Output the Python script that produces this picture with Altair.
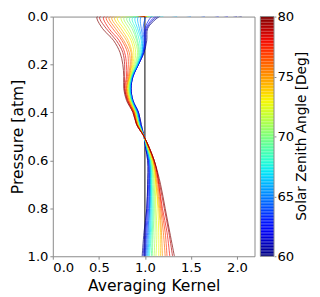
import altair as alt
import numpy as np
import pandas as pd

# Pressure levels [atm] at which the kernels are read
pressure_levels = [0.0, 0.01, 0.05, 0.1, 0.15, 0.2, 0.25, 0.3, 0.35, 0.4,
                   0.45, 0.5, 0.55, 0.6, 0.7, 0.8, 0.9, 1.0]

# Solar zenith angles [deg]
sza_values = [60, 61, 62, 63, 64, 65, 66, 67, 68, 69, 70,
              71, 72, 73, 74, 75, 76, 77, 78, 79, 80]

# Averaging kernel values (one row per SZA, one value per pressure level)
kernel_rows = [
    [2.05, 1.12, 1.03, 1.02, 0.99, 0.93, 0.87, 0.85, 0.87, 0.93, 0.96, 0.99, 1.01, 1.03, 1.03, 1.02, 0.99, 0.97],
    [2.00, 1.10, 1.02, 1.01, 0.99, 0.93, 0.87, 0.85, 0.87, 0.93, 0.96, 0.99, 1.01, 1.03, 1.03, 1.02, 1.00, 0.98],
    [1.90, 1.08, 1.01, 1.00, 0.98, 0.93, 0.87, 0.85, 0.87, 0.93, 0.95, 0.99, 1.01, 1.04, 1.04, 1.03, 1.01, 0.99],
    [1.80, 1.05, 1.00, 1.00, 0.98, 0.93, 0.87, 0.84, 0.86, 0.92, 0.95, 0.99, 1.02, 1.04, 1.05, 1.04, 1.02, 1.00],
    [1.65, 1.00, 0.98, 0.99, 0.98, 0.92, 0.86, 0.84, 0.86, 0.92, 0.95, 0.99, 1.02, 1.05, 1.05, 1.05, 1.03, 1.01],
    [1.50, 0.95, 0.96, 0.98, 0.97, 0.92, 0.86, 0.84, 0.86, 0.92, 0.94, 0.99, 1.02, 1.05, 1.06, 1.05, 1.04, 1.02],
    [1.35, 0.92, 0.94, 0.97, 0.97, 0.92, 0.86, 0.84, 0.86, 0.91, 0.94, 0.99, 1.02, 1.05, 1.06, 1.06, 1.05, 1.03],
    [1.20, 0.89, 0.92, 0.96, 0.96, 0.92, 0.86, 0.84, 0.86, 0.91, 0.94, 0.99, 1.02, 1.06, 1.07, 1.07, 1.06, 1.04],
    [1.10, 0.86, 0.90, 0.94, 0.95, 0.91, 0.85, 0.83, 0.85, 0.91, 0.94, 0.99, 1.03, 1.06, 1.07, 1.08, 1.07, 1.05],
    [1.07, 0.83, 0.88, 0.92, 0.94, 0.91, 0.85, 0.83, 0.85, 0.90, 0.93, 0.99, 1.03, 1.07, 1.08, 1.09, 1.08, 1.07],
    [1.05, 0.80, 0.86, 0.91, 0.93, 0.90, 0.85, 0.83, 0.85, 0.90, 0.93, 0.99, 1.03, 1.07, 1.09, 1.10, 1.09, 1.08],
    [1.04, 0.77, 0.83, 0.89, 0.92, 0.89, 0.84, 0.82, 0.84, 0.90, 0.93, 0.99, 1.03, 1.07, 1.10, 1.11, 1.11, 1.10],
    [1.03, 0.74, 0.80, 0.87, 0.90, 0.88, 0.84, 0.82, 0.84, 0.90, 0.93, 0.99, 1.04, 1.08, 1.11, 1.12, 1.13, 1.12],
    [1.03, 0.70, 0.77, 0.85, 0.88, 0.87, 0.84, 0.81, 0.84, 0.89, 0.92, 0.99, 1.04, 1.08, 1.12, 1.14, 1.15, 1.15],
    [1.02, 0.67, 0.74, 0.82, 0.86, 0.86, 0.83, 0.81, 0.83, 0.89, 0.92, 0.99, 1.04, 1.09, 1.12, 1.15, 1.17, 1.17],
    [1.02, 0.64, 0.71, 0.80, 0.85, 0.85, 0.83, 0.80, 0.83, 0.89, 0.92, 0.99, 1.04, 1.09, 1.13, 1.16, 1.18, 1.19],
    [1.01, 0.61, 0.68, 0.77, 0.83, 0.84, 0.82, 0.80, 0.82, 0.88, 0.92, 0.99, 1.05, 1.09, 1.14, 1.17, 1.20, 1.22],
    [1.01, 0.58, 0.65, 0.75, 0.81, 0.82, 0.81, 0.79, 0.82, 0.88, 0.91, 0.99, 1.05, 1.10, 1.15, 1.18, 1.22, 1.24],
    [1.00, 0.55, 0.61, 0.72, 0.78, 0.80, 0.80, 0.78, 0.81, 0.88, 0.91, 0.99, 1.05, 1.10, 1.15, 1.19, 1.24, 1.27],
    [1.00, 0.51, 0.58, 0.69, 0.76, 0.78, 0.78, 0.78, 0.81, 0.87, 0.91, 0.99, 1.05, 1.10, 1.16, 1.21, 1.26, 1.30],
    [1.00, 0.48, 0.54, 0.66, 0.73, 0.76, 0.77, 0.77, 0.80, 0.87, 0.91, 0.99, 1.05, 1.10, 1.17, 1.22, 1.27, 1.32],
]

reference_line = [1.0]
x_ticks = [0.0, 0.5, 1.0, 1.5, 2.0]
y_ticks = [0.0, 0.2, 0.4, 0.6, 0.8, 1.0]
cbar_ticks = [60, 65, 70, 75, 80]
cbar_range = [60, 80]
cbar_title = ["Solar Zenith Angle [Deg]"]

records = []
for s, row in zip(sza_values, kernel_rows):
    for p, k in zip(pressure_levels, row):
        records.append({"sza": s, "pressure": p, "kernel": k})
df = pd.DataFrame(records)
ref_df = pd.DataFrame({"kernel": reference_line})
title_df = pd.DataFrame({"label": cbar_title})

# colour-bar strip: thin slices spanning the colour range
cbar_edges = np.linspace(cbar_range[0], cbar_range[1], 161)
cbar_df = pd.DataFrame({"lo": cbar_edges[:-1], "hi": cbar_edges[1:]})
cbar_df["mid"] = (cbar_df["lo"] + cbar_df["hi"]) / 2
cbar_box_df = pd.DataFrame({"lo": [cbar_range[0]], "hi": [cbar_range[1]]})


# matplotlib "jet" colormap as a palette
def jet(t):
    r = np.interp(t, [0, 0.35, 0.66, 0.89, 1], [0, 0, 1, 1, 0.5])
    g = np.interp(t, [0, 0.125, 0.375, 0.64, 0.91, 1], [0, 0, 1, 1, 0, 0])
    b = np.interp(t, [0, 0.11, 0.34, 0.65, 1], [0.5, 1, 1, 0, 0])
    return "#%02x%02x%02x" % (int(round(r * 255)), int(round(g * 255)), int(round(b * 255)))


stops = [60 + i for i in range(21)]
palette = [jet((s - 60) / 20) for s in stops]
color_scale = alt.Scale(domain=stops, range=palette, interpolate="rgb")

FONT = "DejaVu Sans"
W, H = 207, 246
CB_X0, CB_X1 = 213, 227

x_enc = alt.X("kernel:Q",
              scale=alt.Scale(domain=[0, 2.19], nice=False, zero=False),
              axis=alt.Axis(values=x_ticks, format=".1f", title="Averaging Kernel"))

rule = alt.Chart(ref_df).mark_rule(color="black", strokeWidth=1).encode(x=x_enc)

lines = alt.Chart(df).mark_line(
    strokeWidth=1, opacity=0.7, interpolate="catmull-rom", tension=1, clip=True
).encode(
    x=x_enc,
    y=alt.Y("pressure:Q",
            scale=alt.Scale(domain=[0, 1], reverse=True, nice=False, zero=False),
            axis=alt.Axis(values=y_ticks, format=".1f", title="Pressure [atm]",
                          titlePadding=2)),
    color=alt.Color("sza:Q", scale=color_scale, legend=None),
    order=alt.Order("pressure:Q"),
)

cbar_y = alt.Y("lo:Q",
               scale=alt.Scale(domain=cbar_range, nice=False, zero=False),
               axis=alt.Axis(orient="right", offset=CB_X1 - W, values=cbar_ticks,
                             format="d", title=None, tickSize=2, labelPadding=1,
                             labelFontSize=13.5))

cbar_rects = alt.Chart(cbar_df).mark_rect(stroke=None).encode(
    x=alt.value(CB_X0), x2=alt.value(CB_X1),
    y=cbar_y, y2="hi:Q",
    color=alt.Color("mid:Q", scale=color_scale, legend=None),
)
cbar_box = alt.Chart(cbar_box_df).mark_rect(
    fillOpacity=0, stroke="#888", strokeWidth=1
).encode(x=alt.value(CB_X0), x2=alt.value(CB_X1), y=cbar_y, y2="hi:Q")

cbar = alt.layer(cbar_rects, cbar_box)

cbar_label = alt.Chart(title_df).mark_text(
    angle=270, fontSize=14, font=FONT, color="black", align="center", baseline="middle"
).encode(text="label:N", x=alt.value(256), y=alt.value(H / 2))

chart = alt.layer(rule, lines, cbar, cbar_label).resolve_scale(
    y="independent"
).properties(
    width=W, height=H,
    padding={"left": 46, "top": 5, "right": 59, "bottom": 38},
    autosize=alt.AutoSizeParams(type="none"),
).configure_view(
    stroke="#888", strokeWidth=1
).configure_axis(
    labelFont=FONT, titleFont=FONT, labelFontSize=13.5, titleFontSize=16,
    titleFontWeight="normal", labelColor="black", titleColor="black",
    grid=False, domain=False, tickColor="#888", tickSize=3, labelPadding=2,
    titlePadding=4,
)

chart.save("out.html", embed_options={"renderer": "svg", "actions": False})
